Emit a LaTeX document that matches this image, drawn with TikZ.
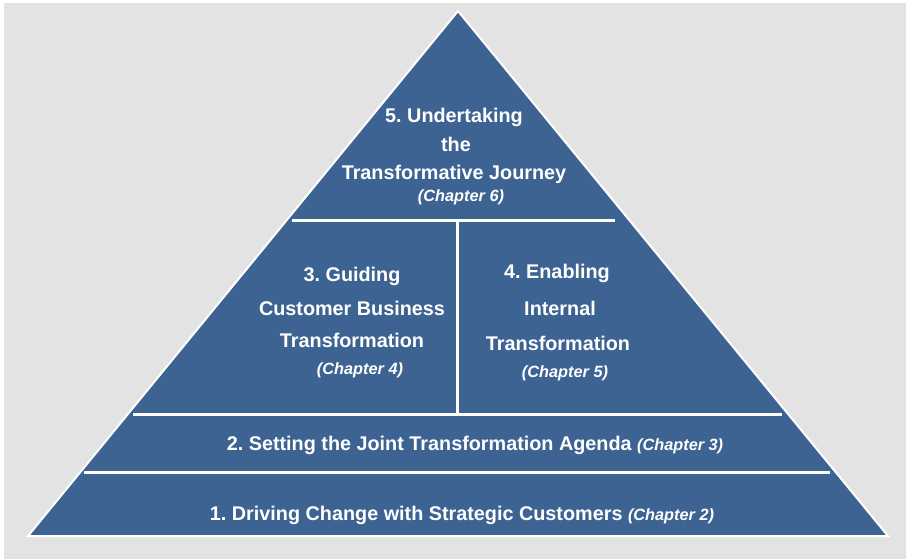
\documentclass[tikz,border=0pt]{standalone}
\usepackage{fontspec}
\setmainfont{Liberation Sans}
\frenchspacing
\definecolor{pyrblue}{HTML}{3D6393}
\definecolor{bggrey}{HTML}{E3E3E3}
\tikzset{
  lbl/.style={text=white, font=\frenchspacing\bfseries\fontsize{19.8}{23}\selectfont, anchor=base, inner sep=0pt},
  chap/.style={text=white, font=\bfseries\itshape\fontsize{16.3}{19}\selectfont, anchor=base, inner sep=0pt},
  divider/.style={draw=white, line width=3pt},
  edge/.style={draw=white, line width=2pt, line join=miter}
}
\newcommand{\chapfont}{\bfseries\itshape\fontsize{16.3}{19}\selectfont}
\begin{document}
\begin{tikzpicture}[x=1pt,y=-1pt]
\useasboundingbox (0,0) rectangle (906,559);
\fill[white] (0,0) rectangle (906,559);
\fill[bggrey] (4,3) rectangle (906,559);
% pyramid
\coordinate (apex) at (458,11);
\coordinate (br) at (888,536);
\coordinate (bl) at (28,536);
\filldraw[fill=pyrblue, edge] (apex) -- (br) -- (bl) -- cycle;
% dividers
\coordinate (d1l) at (292,221); \coordinate (d1r) at (615,221);
\coordinate (vt) at (457,221); \coordinate (vb) at (457,414);
\coordinate (d2l) at (133,414); \coordinate (d2r) at (782,414);
\coordinate (d3l) at (84,472); \coordinate (d3r) at (830,472);
\draw[divider] (d1l) -- (d1r);
\draw[divider] (vt) -- (vb);
\draw[divider] (d2l) -- (d2r);
\draw[divider] (d3l) -- (d3r);
% level 5
\node[lbl] (t5a) at (454,123) {5. Undertaking};
\node[lbl] (t5b) at (456,152) {the};
\node[lbl] (t5c) at (454,180) {Transformative Journey};
\node[chap] (t5d) at (461,202) {(Chapter 6)};
% level 3
\node[lbl] (t3a) at (352,281) {3. Guiding};
\node[lbl] (t3b) at (352,316) {Customer Business};
\node[lbl] (t3c) at (352,347) {Transformation};
\node[chap] (t3d) at (360,374) {(Chapter 4)};
% level 4
\node[lbl] (t4a) at (557,279) {4. Enabling};
\node[lbl] (t4b) at (560,315) {Internal};
\node[lbl] (t4c) at (558,350) {Transformation};
\node[chap] (t4d) at (565,377) {(Chapter 5)};
% level 2
\node[lbl] (t2) at (475,450) {2. Setting the Joint Transformation Agenda {\chapfont (Chapter 3)}};
% level 1
\node[lbl] (t1) at (462,520) {1. Driving Change with Strategic Customers {\chapfont (Chapter 2)}};
\end{tikzpicture}
\end{document}
